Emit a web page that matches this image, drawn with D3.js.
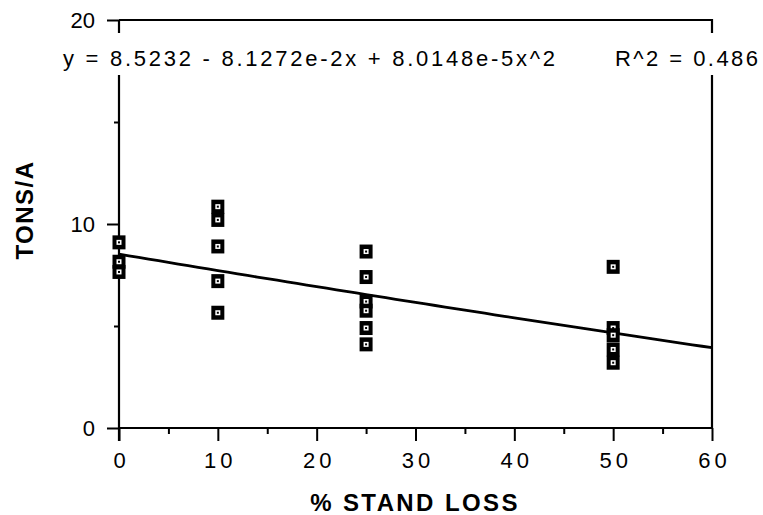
<!DOCTYPE html>
<html>
<head>
<meta charset="utf-8">
<script src="https://cdn.jsdelivr.net/npm/d3@7"></script>
<style>
  html, body { margin: 0; padding: 0; background: #fff; }
  svg { display: block; }
  text { font-family: "Liberation Sans", Arial, Helvetica, sans-serif; fill: #000; }
</style>
</head>
<body>
<svg id="chart" width="763" height="515"></svg>
<script>
// ---- data ----
const standLoss   = [0, 0, 0, 10, 10, 10, 10, 10, 25, 25, 25, 25, 25, 25, 50, 50, 50, 50, 50];
const tonsPerAcre = [9.1, 8.15, 7.65, 10.85, 10.2, 8.9, 7.2, 5.65, 8.65, 7.4, 6.2, 5.75, 4.9, 4.1, 7.9, 4.9, 4.55, 3.85, 3.2];
const fitCoefficients = [8.5232, -8.1272e-2, 8.0148e-5];
const xTickLabels = [0, 10, 20, 30, 40, 50, 60];
const yTickLabels = [0, 10, 20];
const equationText = "y = 8.5232 - 8.1272e-2x + 8.0148e-5x^2";
const r2Text = "R^2 = 0.486";
const xTitle = "% STAND LOSS";
const yTitle = "TONS/A";

// ---- layout ----
const svg = d3.select("#chart");
const x = d3.scaleLinear().domain([0, 60]).range([119, 712]);
const y = d3.scaleLinear().domain([0, 20]).range([428, 20]);

// frame: top and right lines
svg.append("path")
  .attr("d", `M${x(0)},${y(20)} H${x(60)} V${y(0)}`)
  .attr("fill", "none").attr("stroke", "#000").attr("stroke-width", 2.2);

// x axis with major + minor ticks (downward)
svg.append("g").attr("transform", `translate(0,${y(0)})`)
  .call(d3.axisBottom(x).tickValues(d3.range(5, 60, 10)).tickSize(6).tickFormat(""))
  .call(g => g.select(".domain").remove());
const xMaj = svg.append("g").attr("transform", `translate(0,${y(0)})`)
  .call(d3.axisBottom(x).tickValues(xTickLabels).tickSize(13).tickPadding(8).tickFormat(d3.format("d")));
xMaj.select(".domain").attr("stroke-width", 2.2).attr("d", `M${x(0)},0H${x(60)}`);
xMaj.selectAll(".tick text")
  .style("font-size", "22px").attr("letter-spacing", "4px").attr("dx", "2px").attr("dy", "0.85em");

// y axis with major + minor ticks (leftward)
svg.append("g").attr("transform", `translate(${x(0)},0)`)
  .call(d3.axisLeft(y).tickValues([5, 15]).tickSize(5).tickFormat(""))
  .call(g => g.select(".domain").remove());
const yMaj = svg.append("g").attr("transform", `translate(${x(0)},0)`)
  .call(d3.axisLeft(y).tickValues(yTickLabels).tickSize(12).tickPadding(12).tickFormat(d3.format("d")));
yMaj.select(".domain").attr("stroke-width", 2.2).attr("d", `M0,${y(0) + 13}V${y(20)}`);
yMaj.selectAll(".tick text").style("font-size", "22px").attr("dy", "0.35em");
svg.selectAll(".tick line").attr("stroke", "#000").attr("stroke-width", 2);
svg.selectAll(".domain").attr("stroke", "#000");
svg.selectAll(".tick text").attr("fill", "#000");

// equation label with white background breaking the frame
svg.append("rect").attr("x", 55).attr("y", 33).attr("width", 708).attr("height", 42).attr("fill", "#fff");
svg.append("text").attr("x", 63).attr("y", 66)
  .attr("textLength", 492).attr("lengthAdjust", "spacing")
  .style("font-size", "22px").text(equationText);
svg.append("text").attr("x", 615).attr("y", 66)
  .attr("textLength", 143).attr("lengthAdjust", "spacing")
  .style("font-size", "22px").text(r2Text);

// fitted curve
const fit = v => fitCoefficients[0] + fitCoefficients[1] * v + fitCoefficients[2] * v * v;
const xs = d3.range(0, 60.01, 1);
svg.append("path")
  .datum(xs)
  .attr("fill", "none").attr("stroke", "#000").attr("stroke-width", 2.8)
  .attr("d", d3.line().x(d => x(d)).y(d => y(fit(d))));

// markers
const pts = standLoss.map((s, i) => ({ s, t: tonsPerAcre[i] }));
const m = svg.append("g").selectAll("g").data(pts).join("g")
  .attr("transform", d => `translate(${x(d.s)},${y(d.t)})`);
m.append("rect").attr("x", -6.5).attr("y", -7).attr("width", 13).attr("height", 14).attr("fill", "#000");
m.append("rect").attr("x", -2.5).attr("y", -2.5).attr("width", 5).attr("height", 5).attr("fill", "#fff");
m.append("rect").attr("x", -1).attr("y", -1).attr("width", 2).attr("height", 2).attr("fill", "#000");

// axis titles
svg.append("text").attr("x", 415).attr("y", 511)
  .attr("text-anchor", "middle").attr("letter-spacing", "2.4px")
  .style("font-size", "24px").style("font-weight", "bold").text(xTitle);
svg.append("text").attr("transform", "translate(33,210) rotate(-90)")
  .attr("text-anchor", "middle").attr("letter-spacing", "1.5px")
  .style("font-size", "24px").style("font-weight", "bold").text(yTitle);
</script>
</body>
</html>
